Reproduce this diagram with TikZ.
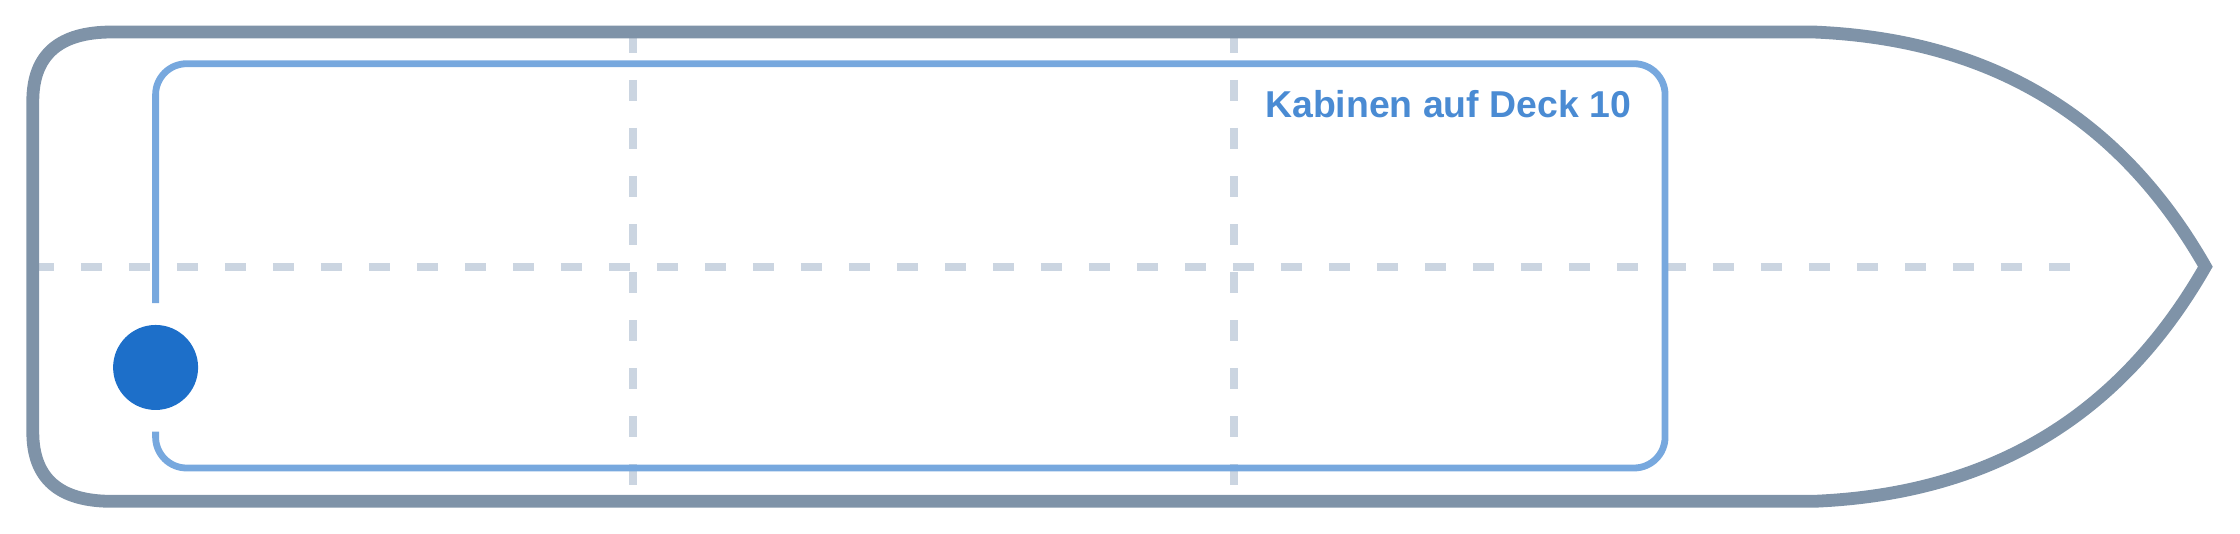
\documentclass[tikz,border=0pt]{standalone}
\usepackage{fontspec}
\setmainfont{Liberation Sans}
\definecolor{hullc}{HTML}{7F93A8}
\definecolor{gridc}{HTML}{CBD5E1}
\definecolor{deckc}{HTML}{77A8DE}
\definecolor{dotc}{HTML}{1D6FC9}
\definecolor{labelc}{HTML}{4A8BD3}
\tikzset{
  hull/.style={draw=hullc, line width=6.4pt},
  grid line/.style={draw=gridc, line width=4pt, dash pattern=on 10.667pt off 13.333pt},
  deck/.style={draw=deckc, line width=3.4pt, rounded corners=15.5pt},
  dot/.style={circle, fill=dotc, draw=none, minimum size=42.5pt, inner sep=0pt},
  label/.style={text=labelc, font=\bfseries\fontsize{18.7pt}{22pt}\selectfont, inner sep=0pt}
}
\begin{document}
\begin{tikzpicture}[x=1.3333pt,y=-1.3333pt]
\useasboundingbox (0,0) rectangle (840,200);
% grid lines
\coordinate (hl) at (12.3,100);
\coordinate (hr) at (780,100);
\coordinate (v1t) at (237.4,12);
\coordinate (v1b) at (237.4,188);
\coordinate (v2t) at (462.6,12);
\coordinate (v2b) at (462.6,188);
\draw[grid line] (hl) -- (hr);
\draw[grid line] (v1t) -- (v1b);
\draw[grid line] (v2t) -- (v2b);
% deck outline with gap for the marker
\node[dot] (marker) at (58.35,137.8) {};
\coordinate (gapTop) at (58.35,113.7);
\coordinate (gapBot) at (58.35,161.9);
\draw[deck] (gapTop) -- (58.35,23.9) -- (624.4,23.9) -- (624.4,175.5) -- (58.35,175.5) -- (gapBot);
% hull
\draw[hull] (42,12) -- (680,12)
  .. controls (746.7,14.7) and (795,44) .. (827,100)
  .. controls (795,156) and (746.7,185.3) .. (680,188)
  -- (42,188)
  .. controls (22,188) and (12.3,179.3) .. (12.3,162)
  -- (12.3,38)
  .. controls (12.3,20.7) and (22,12) .. cycle;
\node[label, anchor=base east] (title) at (611.8,44) {Kabinen auf Deck 10};
\end{tikzpicture}
\end{document}
